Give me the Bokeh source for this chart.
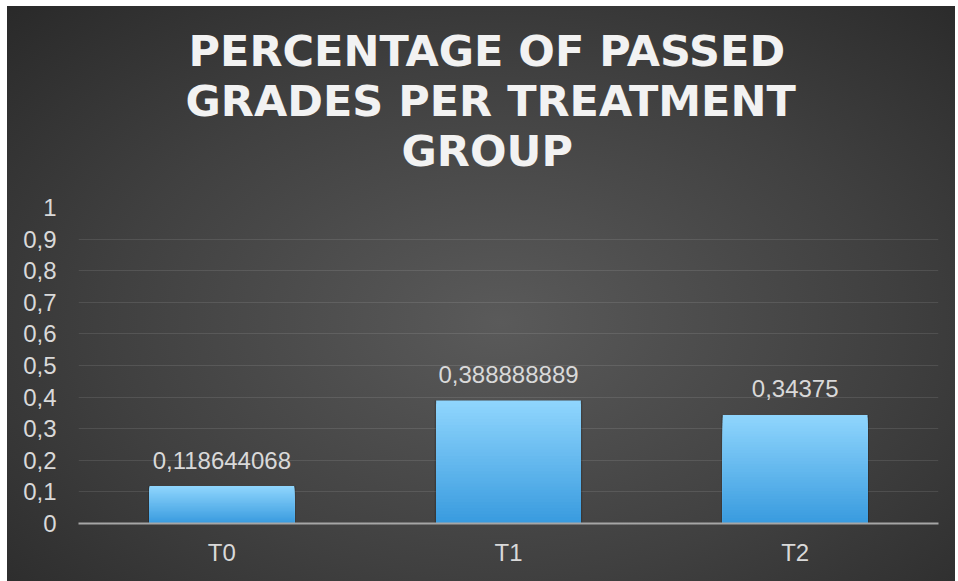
from bokeh.plotting import figure
from bokeh.models import Title, FixedTicker, Range1d, ColumnDataSource
from bokeh.core.properties import value
from bokeh.embed import file_html
from bokeh.resources import INLINE

# ---- data ----
categories = ["T0", "T1", "T2"]
pass_rates = [0.118644068, 0.388888889, 0.34375]
value_labels = ["0,118644068", "0,388888889", "0,34375"]
y_ticks = [0, 0.1, 0.2, 0.3, 0.4, 0.5, 0.6, 0.7, 0.8, 0.9, 1]
y_tick_labels = ["0", "0,1", "0,2", "0,3", "0,4", "0,5", "0,6", "0,7", "0,8", "0,9", "1"]
title_lines = ["PERCENTAGE OF PASSED", "GRADES PER TREATMENT", "GROUP"]

FONT = "Liberation Sans"
LABEL_COLOR = "#d9d9d9"

p = figure(
    x_range=categories, y_range=Range1d(0, 1),
    width=948, height=575,
    output_backend="svg", toolbar_location=None,
    min_border_left=71, min_border_right=17, min_border_top=201, min_border_bottom=58,
)
p.margin = (6, 3, 0, 7)
p.border_fill_color = None
p.background_fill_color = None
p.outline_line_color = None
p.styles = {"background": "radial-gradient(ellipse 75% 80% at 52% 55%, #5a5a5a 0%, #404040 55%, #282828 100%)"}

p.title.visible = False
# layout of title lines: (left offset from frame, standoff)
title_offsets = [110, 107, 323]
title_standoffs = [32, -68, 64]
for line, off, so in zip(reversed(title_lines), reversed(title_offsets), reversed(title_standoffs)):
    p.add_layout(Title(text=line, align="left", offset=off, standoff=so,
                       text_font="DejaVu Sans", text_font_size="43px",
                       text_font_style="bold", text_color="#f2f2f2"), "above")

# gradient bars: overlapping bars from the base, tallest (lightest) first
n = 40
top_c = (0x8f, 0xd5, 0xfd)
bot_c = (0x37, 0x9a, 0xde)
xs, tops, colors = [], [], []
for i in range(n):
    f = 1 - i / n  # fraction of the bar height
    c = tuple(int(round(bot_c[k] + (top_c[k] - bot_c[k]) * f)) for k in range(3))
    for cat, v in zip(categories, pass_rates):
        xs.append(cat)
        tops.append(v * f)
        colors.append("#%02x%02x%02x" % c)

# subtle shadow
p.vbar(x=categories, top=pass_rates, width=0.515, bottom=0, fill_color="black",
       fill_alpha=0.18, line_color=None)
p.vbar(x=xs, bottom=0, top=tops, width=0.505, fill_color=colors, line_color=None)

src = ColumnDataSource(dict(x=categories, y=pass_rates, t=value_labels))
p.text(x="x", y="y", text="t", source=src, text_align="center", text_baseline="alphabetic",
       y_offset=-26, text_font=value(FONT), text_font_size="24px", text_color=LABEL_COLOR)

# axes
p.yaxis.ticker = FixedTicker(ticks=y_ticks)
p.yaxis.major_label_overrides = dict(zip(y_ticks, y_tick_labels))
p.yaxis.axis_line_color = None
p.yaxis.major_tick_line_color = None
p.yaxis.minor_tick_line_color = None
p.yaxis.major_label_standoff = 16
p.yaxis.major_label_text_font = FONT
p.yaxis.major_label_text_font_size = "24px"
p.yaxis.major_label_text_color = LABEL_COLOR

p.xaxis.axis_line_color = "#a6a6a6"
p.xaxis.axis_line_width = 2
p.xaxis.major_tick_line_color = None
p.xaxis.minor_tick_line_color = None
p.xaxis.major_label_standoff = 9
p.xaxis.major_label_text_font = FONT
p.xaxis.major_label_text_font_size = "24px"
p.xaxis.major_label_text_color = LABEL_COLOR

p.xgrid.grid_line_color = None
p.ygrid.grid_line_color = "white"
p.ygrid.grid_line_alpha = 0.1
p.ygrid.grid_line_width = 1
p.ygrid.ticker = FixedTicker(ticks=y_ticks)

open("out.html", "w").write(file_html(p, INLINE))
